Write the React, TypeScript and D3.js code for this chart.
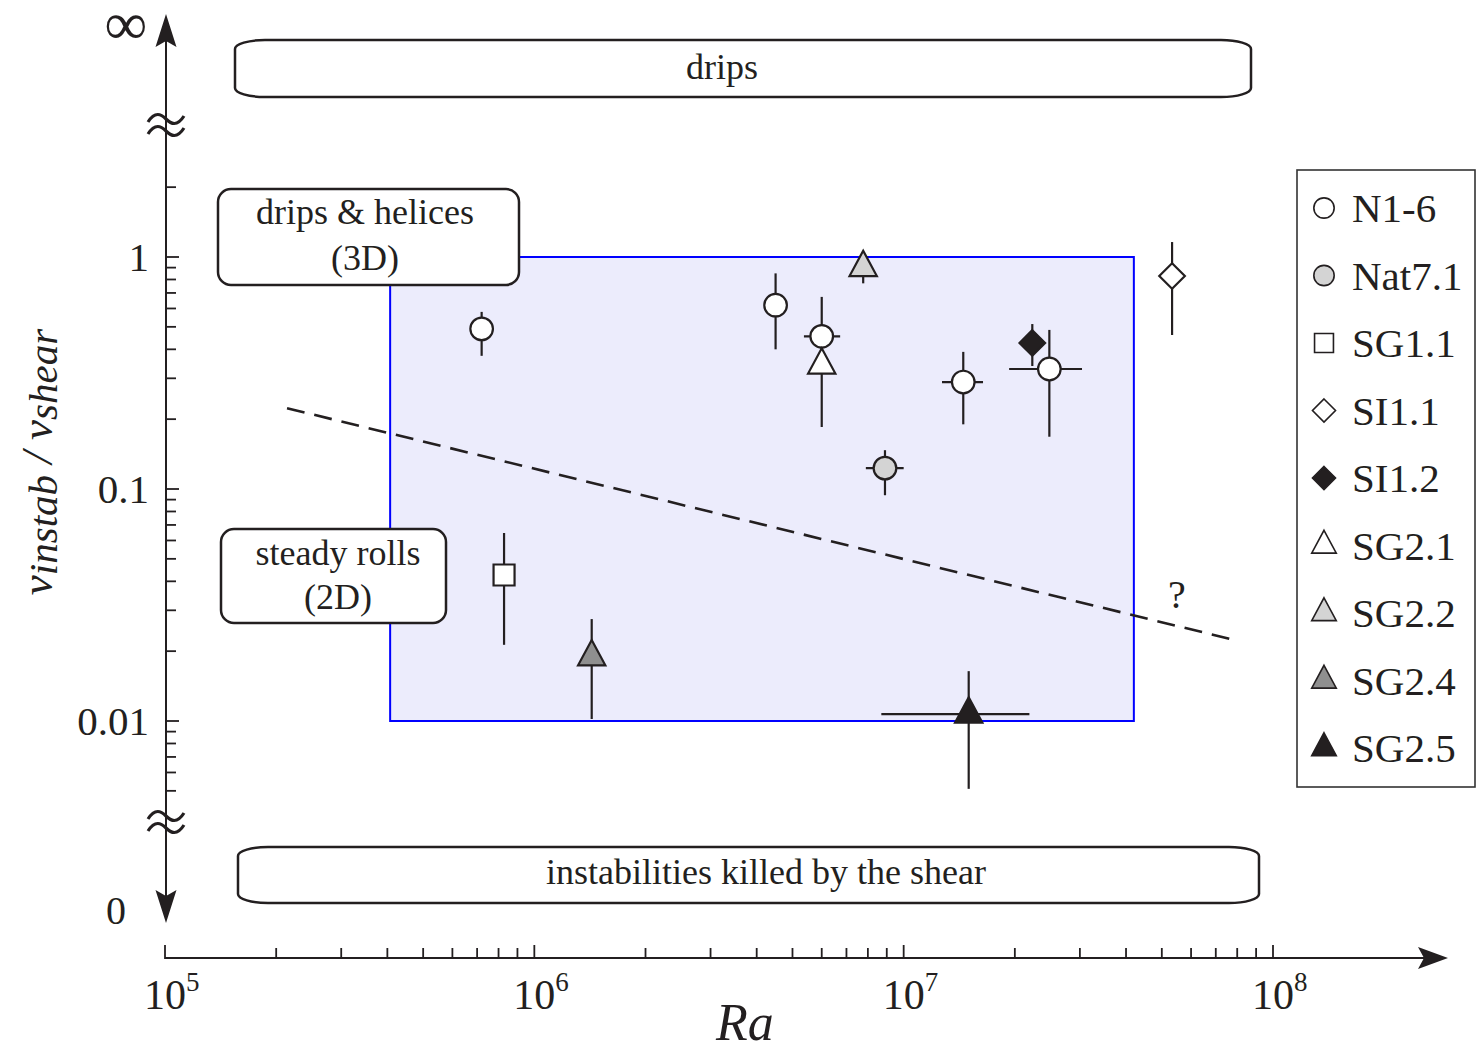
import * as d3 from "d3"

// shaded region of the experiments (Ra range x velocity ratio range)
const regionRa = [4.07e5, 4.2e7]
const regionV = [0.01, 1]

// dashed regime boundary
const boundaryRa = [2.14e5, 7.9e7]
const boundaryV = [0.223, 0.0223]

// legend / series styling
const seriesNames = ["N1-6", "Nat7.1", "SG1.1", "SI1.1", "SI1.2", "SG2.1", "SG2.2", "SG2.4", "SG2.5"]
const seriesShapes = ["circle", "circle", "square", "diamond", "diamond", "triangle", "triangle", "triangle", "triangle"]
const seriesFills = ["#ffffff", "#d4d4d4", "#ffffff", "#ffffff", "#231f20", "#ffffff", "#d4d4d4", "#8f8f8f", "#231f20"]

// measured points
const pointSeries = ["N1-6", "N1-6", "N1-6", "Nat7.1", "N1-6", "N1-6", "SI1.2", "SI1.1", "SG2.1", "SG2.2", "SG1.1", "SG2.4", "SG2.5"]
const pointRa = [7.2e5, 4.5e6, 6.0e6, 8.9e6, 1.45e7, 2.48e7, 2.23e7, 5.33e7, 6.0e6, 7.77e6, 8.28e5, 1.43e6, 1.5e7]
const pointV = [0.49, 0.62, 0.455, 0.123, 0.289, 0.329, 0.426, 0.828, 0.342, 0.9, 0.0426, 0.0189, 0.0107]
const vLow = [0.375, 0.4, 0.36, 0.094, 0.19, 0.168, 0.339, 0.461, 0.185, 0.77, 0.0213, 0.0102, 0.0051]
const vHigh = [0.58, 0.85, 0.673, 0.147, 0.39, 0.485, 0.514, 1.16, 0.46, 0.9, 0.0646, 0.0275, 0.0164]
const raLow = [null, null, 5.37e6, 7.9e6, 1.27e7, 1.93e7, null, null, null, null, null, null, 8.7e6]
const raHigh = [null, null, 6.73e6, 1.0e7, 1.64e7, 3.04e7, null, null, null, null, null, null, 2.19e7]

const xTickLabels = [1e5, 1e6, 1e7, 1e8]
const yTickLabels = [0.01, 0.1, 1]

const INK = "#231f20"
const FONT = "'Liberation Serif', 'Times New Roman', serif"

function markerPath(shape: string, s: number) {
  if (shape === "circle") {
    return `M${-s},0A${s},${s} 0 1,0 ${s},0A${s},${s} 0 1,0 ${-s},0Z`
  }
  if (shape === "square") {
    return `M${-s},${-s}H${s}V${s}H${-s}Z`
  }
  if (shape === "diamond") {
    return `M0,${-s}L${s},0L0,${s}L${-s},0Z`
  }
  // triangle, centroid at origin
  const h = s * 1.95
  const w = s * 2.1
  return `M0,${(-2 * h) / 3}L${w / 2},${h / 3}L${-w / 2},${h / 3}Z`
}

function markerSize(shape: string, legend: boolean) {
  const base: Record<string, number> = { circle: 11.3, square: 10.5, diamond: 12.8, triangle: 13 }
  return base[shape] * (legend ? 0.9 : 1)
}

export default function App() {
  const width = 1476
  const height = 1050

  const x = d3.scaleLog().domain([1e5, 1e8]).range([165, 1273])
  const y = d3.scaleLog().domain([0.01, 1]).range([721, 257])

  const axisX = 166
  const axisY = 958

  const xTicks: number[] = []
  for (let e = 5; e < 8; e++) for (let m = 1; m < 10; m++) xTicks.push(m * 10 ** e)
  xTicks.push(1e8)

  const yTicks: number[] = []
  for (let e = -3; e <= 0; e++)
    for (let m = 1; m < 10; m++) {
      const v = m * 10 ** e
      if (v >= 0.0049 && v <= 2.01) yTicks.push(+v.toPrecision(3))
    }

  const isMajor = (v: number) => Math.abs(Math.log10(v) - Math.round(Math.log10(v))) < 1e-6

  const boundary = d3
    .line<number>()
    .x((_, i) => x(boundaryRa[i]))
    .y((_, i) => y(boundaryV[i]))(boundaryRa)

  const styleOf = (name: string) => {
    const i = seriesNames.indexOf(name)
    return { shape: seriesShapes[i], fill: seriesFills[i] }
  }

  const tilde = (cy: number) =>
    `M${axisX - 18},${cy + 3}C${axisX - 11},${cy - 8} ${axisX - 5},${cy - 5} ${axisX},${cy}` +
    `C${axisX + 5},${cy + 5} ${axisX + 11},${cy + 8} ${axisX + 18},${cy - 3}`

  return (
    <>
      <style>{`body{margin:0}`}</style>
      <svg width={width} height={height} style={{ display: "block", background: "#fff" }} fontFamily={FONT}>
        {/* experimental region */}
        <rect
          x={x(regionRa[0])}
          y={y(regionV[1])}
          width={x(regionRa[1]) - x(regionRa[0])}
          height={y(regionV[0]) - y(regionV[1])}
          fill="#ececfc"
          stroke="#0000ff"
          strokeWidth={2}
        />

        {/* regime boundary */}
        <path d={boundary || ""} fill="none" stroke={INK} strokeWidth={2.6} strokeDasharray="18 10" />
        <text x={1177} y={608} fontSize={40} textAnchor="middle" fill={INK}>?</text>

        {/* regime boxes */}
        <rect x={235} y={40} width={1016} height={57} rx={30} ry={9} fill="#fff" stroke={INK} strokeWidth={2.5} />
        <text x={722} y={68} fontSize={36} textAnchor="middle" dy="0.3em" fill={INK}>drips</text>

        <rect x={218} y={189} width={301} height={96} rx={13} fill="#fff" stroke={INK} strokeWidth={2.5} />
        <text x={365} y={213} fontSize={36} textAnchor="middle" dy="0.3em" fill={INK}>drips &amp; helices</text>
        <text x={365} y={259} fontSize={36} textAnchor="middle" dy="0.3em" fill={INK}>(3D)</text>

        <rect x={221} y={529} width={225} height={94} rx={13} fill="#fff" stroke={INK} strokeWidth={2.5} />
        <text x={338} y={554} fontSize={36} textAnchor="middle" dy="0.3em" fill={INK}>steady rolls</text>
        <text x={338} y={598} fontSize={36} textAnchor="middle" dy="0.3em" fill={INK}>(2D)</text>

        <rect x={238} y={847} width={1021} height={56} rx={30} ry={9} fill="#fff" stroke={INK} strokeWidth={2.5} />
        <text x={766} y={873} fontSize={36} textAnchor="middle" dy="0.3em" fill={INK}>
          instabilities killed by the shear
        </text>

        {/* error bars */}
        <g stroke={INK} strokeWidth={2.2}>
          {pointRa.map((ra, i) => (
            <g key={`e${i}`}>
              <line x1={x(ra)} x2={x(ra)} y1={y(vLow[i])} y2={y(vHigh[i])} />
              {raLow[i] != null && (
                <line x1={x(raLow[i] as number)} x2={x(raHigh[i] as number)} y1={y(pointV[i])} y2={y(pointV[i])} />
              )}
            </g>
          ))}
        </g>

        {/* markers */}
        {pointRa.map((ra, i) => {
          const st = styleOf(pointSeries[i])
          return (
            <path
              key={`m${i}`}
              transform={`translate(${x(ra)},${y(pointV[i])})`}
              d={markerPath(st.shape, markerSize(st.shape, false))}
              fill={st.fill}
              stroke={INK}
              strokeWidth={2.2}
              strokeLinejoin="miter"
            />
          )
        })}

        {/* y axis */}
        <line x1={axisX} x2={axisX} y1={30} y2={905} stroke={INK} strokeWidth={2} />
        <path d={`M${axisX},14L${axisX + 10.5},47L${axisX},41L${axisX - 10.5},47Z`} fill={INK} />
        <path d={`M${axisX},923L${axisX + 10.5},890L${axisX},896L${axisX - 10.5},890Z`} fill={INK} />
        <g fill="none" stroke={INK} strokeWidth={3.2}>
          <path d={tilde(119)} />
          <path d={tilde(131)} />
          <path d={tilde(816)} />
          <path d={tilde(828)} />
        </g>
        <g stroke={INK} strokeWidth={1.8}>
          {yTicks.map((v) => (
            <line key={`yt${v}`} x1={axisX} x2={axisX + (isMajor(v) ? 13 : 10)} y1={y(v)} y2={y(v)} />
          ))}
        </g>
        {yTickLabels.map((v) => (
          <text key={`yl${v}`} x={149} y={y(v)} dy="0.35em" fontSize={41} textAnchor="end" fill={INK}>
            {String(v)}
          </text>
        ))}
        <text x={126} y={44} fontSize={60} textAnchor="middle" fill={INK}>∞</text>
        <text x={116} y={910} dy="0.35em" fontSize={40} textAnchor="middle" fill={INK}>0</text>

        <text transform="translate(52,462) rotate(-90)" textAnchor="middle" fontStyle="italic" fill={INK}>
          <tspan fontSize={45}>v</tspan>
          <tspan fontSize={41} dy={5}>instab</tspan>
          <tspan fontSize={45} dy={-5}> / v</tspan>
          <tspan fontSize={41} dy={5}>shear</tspan>
        </text>

        {/* x axis */}
        <line x1={165} x2={1430} y1={axisY} y2={axisY} stroke={INK} strokeWidth={2} />
        <path d={`M1448,${axisY}L1418,${axisY - 11}L1424,${axisY}L1418,${axisY + 11}Z`} fill={INK} />
        <g stroke={INK} strokeWidth={1.8}>
          {xTicks.map((v) => (
            <line key={`xt${v}`} x1={x(v)} x2={x(v)} y1={axisY + 1} y2={axisY - (isMajor(v) ? 13 : 10)} />
          ))}
        </g>
        {xTickLabels.map((v) => (
          <text key={`xl${v}`} x={x(v) - 21} y={1009} fontSize={42} fill={INK}>
            <tspan>10</tspan>
            <tspan fontSize={27} dy={-18}>{Math.round(Math.log10(v))}</tspan>
          </text>
        ))}
        <text x={745} y={1040} fontSize={52} fontStyle="italic" textAnchor="middle" fill={INK}>Ra</text>

        {/* legend */}
        <rect x={1297} y={170} width={178} height={617} fill="#fff" stroke="#333" strokeWidth={1.6} />
        {seriesNames.map((name, i) => {
          const cy = 208 + i * 67.5
          return (
            <g key={`lg${name}`}>
              <path
                transform={`translate(1324,${cy})`}
                d={markerPath(seriesShapes[i], markerSize(seriesShapes[i], true))}
                fill={seriesFills[i]}
                stroke={INK}
                strokeWidth={1.6}
              />
              <text x={1352} y={cy} dy="0.35em" fontSize={41} fill={INK}>
                {name}
              </text>
            </g>
          )
        })}
      </svg>
    </>
  )
}
